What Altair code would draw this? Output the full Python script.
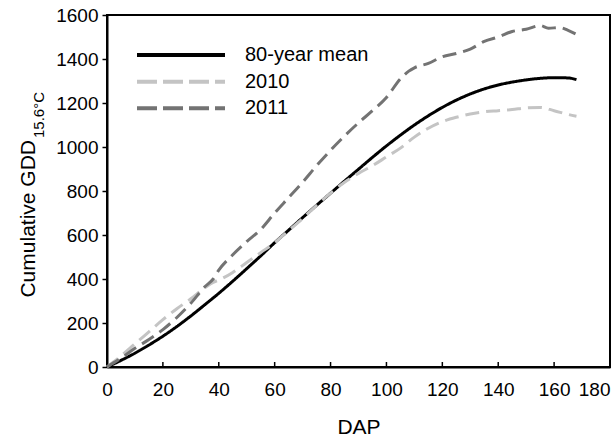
import altair as alt
import pandas as pd

FONT = "Liberation Sans"

series = ["80-year mean", "2010", "2011"]
colors = ["#000000", "#c4c4c4", "#737373"]
dashes = [[1, 0], [14, 7], [14, 7]]
legend_dashes = [[1, 0], [20, 6], [20, 6]]

dap_mean = [0, 5, 10, 15, 20, 25, 30, 35, 40, 45, 50, 55, 60, 65, 70, 75, 80, 85,
            90, 95, 100, 105, 110, 115, 120, 125, 130, 135, 140, 145, 150, 155,
            160, 165, 168]
gdd_mean = [0, 30, 63, 100, 140, 184, 232, 283, 335, 390, 447, 505, 565, 622, 679,
            735, 790, 845, 899, 953, 1005, 1054, 1100, 1142, 1180, 1213, 1241,
            1264, 1282, 1295, 1305, 1312, 1315, 1314, 1306]

dap_2010 = [0, 5, 10, 15, 20, 25, 30, 35, 38, 40, 45, 50, 55, 60, 65, 70, 75, 80,
            85, 90, 95, 100, 105, 110, 115, 120, 125, 130, 135, 140, 145, 150,
            155, 160, 165, 168]
gdd_2010 = [0, 50, 105, 160, 215, 265, 310, 360, 385, 395, 430, 475, 520, 565, 620,
            675, 735, 790, 840, 880, 915, 955, 995, 1045, 1085, 1115, 1135, 1150,
            1160, 1165, 1170, 1178, 1180, 1165, 1148, 1140]

dap_2011 = [0, 5, 10, 15, 20, 25, 30, 35, 38, 40, 45, 50, 55, 60, 65, 70, 75, 80,
            85, 90, 95, 100, 105, 108, 110, 115, 120, 125, 130, 135, 140, 145, 150,
            155, 158, 162, 165, 168]
gdd_2011 = [0, 40, 85, 125, 170, 225, 290, 365, 400, 440, 510, 570, 625, 700, 770,
            840, 915, 985, 1050, 1110, 1165, 1225, 1310, 1345, 1360, 1380, 1410,
            1425, 1445, 1480, 1500, 1525, 1535, 1552, 1540, 1543, 1530, 1512]

x_ticks = list(range(0, 181, 20))
y_ticks = list(range(0, 1601, 200))
inner_x_ticks = x_ticks[1:-1]

data = [
    pd.DataFrame({"DAP": dap_mean, "GDD": gdd_mean}),
    pd.DataFrame({"DAP": dap_2010, "GDD": gdd_2010}),
    pd.DataFrame({"DAP": dap_2011, "GDD": gdd_2011}),
]

x_scale = alt.Scale(domain=[0, 180], nice=False, zero=False)
y_scale = alt.Scale(domain=[0, 1600], nice=False)

x_axis = alt.Axis(
    values=x_ticks, format="d", ticks=False, tickSize=0, labelPadding=13,
    labelFontSize=19,
    labelAlign={"expr": "datum.value == 180 ? 'right' : 'center'"},
    title="DAP", titleFontSize=21, titleFontWeight="normal", titlePadding=17,
    domainWidth=2, labelFont=FONT, titleFont=FONT,
)
y_axis = alt.Axis(
    values=y_ticks, format="d", tickSize=5, tickWidth=1.5, labelPadding=4,
    labelFontSize=19, title=None, domainWidth=2, labelFont=FONT,
)

layers = []
for i, df in enumerate(data):
    layers.append(
        alt.Chart(df).mark_line(
            color=colors[i], strokeDash=dashes[i], strokeWidth=3,
            interpolate="monotone",
        ).encode(
            x=alt.X("DAP:Q", scale=x_scale, axis=x_axis),
            y=alt.Y("GDD:Q", scale=y_scale, axis=y_axis),
        )
    )

# inward x ticks
tick_df = pd.DataFrame({"DAP": inner_x_ticks})
layers.append(
    alt.Chart(tick_df).mark_rule(color="black", strokeWidth=1.5).encode(
        x=alt.X("DAP:Q", scale=x_scale, axis=x_axis),
        y=alt.value(352), y2=alt.value(347),
    )
)

# legend
legend_y = [40, 66.7, 93.3]
for i, name in enumerate(series):
    layers.append(
        alt.Chart(pd.DataFrame({"name": [name]})).mark_rule(
            color=colors[i], strokeDash=legend_dashes[i], strokeWidth=4,
        ).encode(x=alt.value(30), x2=alt.value(118), y=alt.value(legend_y[i]))
    )
    layers.append(
        alt.Chart(pd.DataFrame({"name": [name]})).mark_text(
            align="left", baseline="middle", fontSize=20, font=FONT, color="black",
        ).encode(x=alt.value(138), y=alt.value(legend_y[i]), text="name:N")
    )

# y-axis title with subscript
layers.append(
    alt.Chart(pd.DataFrame({"s": ["Cumulative GDD"]})).mark_text(
        angle=270, align="right", baseline="alphabetic", fontSize=21, font=FONT,
        color="black",
    ).encode(x=alt.value(-72), y=alt.value(125), text="s:N")
)
layers.append(
    alt.Chart(pd.DataFrame({"s": ["15.6°C"]})).mark_text(
        angle=270, align="left", baseline="alphabetic", fontSize=15, font=FONT,
        color="black",
    ).encode(x=alt.value(-63), y=alt.value(123), text="s:N")
)

chart = alt.layer(*layers).properties(
    width=503, height=352,
    autosize=alt.AutoSizeParams(type="none"),
    padding={"left": 107, "top": 15, "right": 4, "bottom": 71},
    background="white",
).configure_view(stroke="black", strokeWidth=2).configure_axis(
    grid=False, domainColor="black", tickColor="black", labelColor="black",
    titleColor="black", labelFont=FONT, titleFont=FONT,
)

chart.save("out.html", embed_options={"renderer": "svg", "actions": False})
